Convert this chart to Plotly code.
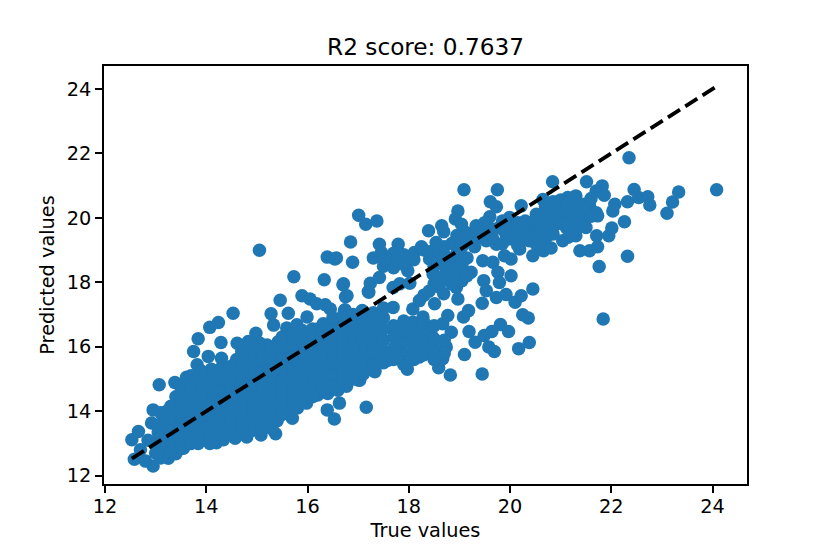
import plotly.graph_objects as go

# (true value, predicted value), grouped by region
band_points = [
    (12.58, 12.51), (12.53, 13.11), (12.66, 13.37), (12.7, 12.8), (12.8, 12.45), (12.85, 13.1), (12.92, 13.63),
    (12.95, 12.3), (13.0, 12.7), (13.02, 13.0), (13.05, 13.35), (12.95, 14.04), (13.25, 12.54), (13.2, 12.9),
    (13.2, 13.25), (13.2, 13.6), (13.22, 14.0), (13.4, 12.68), (13.4, 13.0), (13.4, 13.3), (13.42, 13.65),
    (13.4, 14.0), (13.4, 14.45), (13.55, 12.85), (13.6, 13.2), (13.6, 13.5), (13.6, 13.85), (13.6, 14.2),
    (13.6, 14.55), (13.6, 14.9), (13.84, 13.0), (13.8, 13.3), (13.8, 13.65), (13.8, 14.0), (13.8, 14.3),
    (13.8, 14.65), (13.8, 15.0), (13.82, 15.44), (14.07, 13.0), (14.0, 13.35), (14.0, 13.7), (14.0, 14.05),
    (14.0, 14.4), (14.0, 14.75), (14.0, 15.1), (14.2, 13.02), (14.2, 13.4), (14.2, 13.75), (14.2, 14.1),
    (14.2, 14.45), (14.2, 14.8), (14.2, 15.2), (14.34, 13.11), (14.4, 13.45), (14.4, 13.8), (14.4, 14.15),
    (14.4, 14.5), (14.4, 14.85), (14.4, 15.2), (14.57, 13.16), (14.6, 13.5), (14.6, 13.85), (14.6, 14.2),
    (14.6, 14.55), (14.6, 14.9), (14.62, 15.25), (14.6, 15.6), (14.8, 13.2), (14.8, 13.55), (14.8, 13.9),
    (14.8, 14.25), (14.8, 14.6), (14.8, 14.95), (14.8, 15.3), (14.8, 15.7), (15.08, 13.26), (15.0, 13.6),
    (15.0, 13.95), (15.0, 14.3), (15.0, 14.65), (15.0, 15.0), (15.0, 15.35), (15.0, 15.75), (15.2, 13.55),
    (15.2, 13.95), (15.2, 14.3), (15.2, 14.65), (15.2, 15.0), (15.2, 15.35), (15.2, 15.7), (15.2, 16.05),
    (15.37, 13.3), (15.4, 13.7), (15.4, 14.05), (15.4, 14.4), (15.4, 14.75), (15.4, 15.1), (15.4, 15.45),
    (15.4, 15.8), (15.42, 16.15), (15.7, 13.78), (15.6, 14.1), (15.6, 14.45), (15.6, 14.8), (15.6, 15.15),
    (15.6, 15.5), (15.6, 15.85), (15.6, 16.2), (15.8, 14.1), (15.8, 14.45), (15.8, 14.8), (15.8, 15.15),
    (15.8, 15.5), (15.8, 15.85), (15.8, 16.2), (15.98, 14.25), (16.0, 14.6), (16.0, 14.95), (16.0, 15.3),
    (16.0, 15.65), (16.0, 16.0), (16.0, 16.35), (16.2, 14.5), (16.2, 14.85), (16.2, 15.2), (16.2, 15.55),
    (16.2, 15.9), (16.2, 16.25), (16.2, 16.55), (16.4, 14.55), (16.4, 14.9), (16.4, 15.25), (16.4, 15.6),
    (16.4, 15.95), (16.4, 16.3), (16.4, 16.65), (16.6, 14.65), (16.6, 15.0), (16.6, 15.35), (16.6, 15.7),
    (16.6, 16.05), (16.6, 16.4), (16.6, 16.8), (16.77, 14.77), (16.8, 15.1), (16.8, 15.45), (16.8, 15.8),
    (16.8, 16.15), (16.8, 16.5), (16.8, 16.9), (17.0, 14.97), (17.0, 15.3), (17.0, 15.65), (17.0, 16.0),
    (17.0, 16.35), (17.0, 16.7), (17.2, 15.3), (17.2, 15.65), (17.2, 16.0), (17.2, 16.35), (17.2, 16.7),
    (17.33, 15.28), (17.4, 15.6), (17.4, 15.95), (17.4, 16.3),
]

upper_points = [
    (13.07, 14.82), (13.38, 14.89), (13.61, 15.05), (13.75, 15.85), (13.84, 16.25), (14.04, 15.7), (14.07, 16.6),
    (14.24, 16.75), (14.29, 16.13), (14.3, 15.64), (14.53, 17.04), (14.61, 16.11), (14.83, 16.16), (14.98, 16.42),
    (15.05, 18.99), (15.06, 16.11), (15.28, 17.02), (15.33, 16.67), (15.46, 17.44), (15.59, 16.58), (15.62, 17.04),
    (15.73, 18.17), (15.79, 16.68), (15.89, 17.58), (15.99, 16.92), (16.05, 17.48), (16.18, 17.33), (16.31, 16.71),
    (16.33, 18.08), (16.35, 17.3), (16.39, 18.78), (16.45, 17.17), (16.54, 18.72), (16.57, 18.75), (16.7, 17.92),
    (16.71, 17.95), (16.73, 17.12), (16.74, 17.15), (16.75, 17.55), (16.78, 17.58), (16.85, 19.25), (16.89, 18.62),
    (17.01, 20.08), (17.08, 17.12), (17.15, 19.8), (17.2, 17.71), (17.21, 17.69), (17.24, 17.97), (17.37, 19.9),
    (17.42, 18.15), (17.42, 19.18), (17.46, 18.92), (17.62, 18.72), (17.69, 17.84), (17.69, 17.22), (17.75, 18.56),
    (17.79, 19.18), (17.82, 17.95), (17.98, 18.72), (17.98, 18.36), (18.02, 17.97), (18.11, 18.92), (18.25, 19.1),
    (18.39, 19.6), (18.4, 17.72), (18.41, 18.92), (18.41, 18.72), (18.48, 18.25), (18.54, 19.23), (18.65, 19.75),
    (18.69, 19.57), (18.69, 17.64), (18.74, 18.36), (18.92, 19.96), (18.94, 17.84), (18.97, 20.21), (18.97, 17.48),
    (19.0, 18.36), (19.04, 19.8), (19.07, 18.77), (19.09, 20.87), (19.13, 19.54), (19.23, 18.31), (19.33, 19.75),
    (19.4, 19.39), (19.53, 19.29), (19.6, 20.03), (19.61, 20.5), (19.73, 20.34), (19.73, 19.18), (19.75, 20.87),
    (19.79, 19.7), (19.92, 19.49),
]

lower_points = [
    (16.39, 14.04), (16.53, 13.76), (16.63, 14.25), (16.83, 16.5), (16.96, 15.68), (17.03, 14.96), (17.16, 14.12),
    (17.23, 16.3), (17.33, 15.22), (17.42, 16.81), (17.59, 15.58), (17.69, 16.6), (17.75, 15.99), (17.92, 16.3),
    (17.97, 15.3), (18.08, 17.17), (18.08, 16.76), (18.15, 16.4), (18.21, 17.43), (18.21, 15.68), (18.22, 15.75),
    (18.28, 16.92), (18.41, 15.99), (18.44, 16.4), (18.51, 17.33), (18.59, 15.35), (18.67, 16.71), (18.67, 15.63),
    (18.74, 15.99), (18.77, 16.97), (18.82, 15.12), (18.84, 16.45), (19.08, 16.92), (19.1, 15.76), (19.18, 17.12),
    (19.19, 16.47), (19.31, 16.14), (19.45, 17.35), (19.45, 15.15), (19.46, 18.67), (19.48, 18.05), (19.49, 16.35),
    (19.53, 17.74), (19.58, 15.99), (19.64, 16.47), (19.66, 18.62), (19.69, 15.85), (19.73, 17.53), (19.76, 18.31),
    (19.79, 17.99), (19.81, 16.69), (19.92, 17.62), (19.97, 16.47), (20.02, 18.2), (20.1, 17.38), (20.17, 15.94),
    (20.22, 17.58), (20.25, 16.99), (20.36, 16.89), (20.38, 16.13), (20.45, 17.79),
]

right_points = [
    (19.89, 18.82), (19.99, 20.01), (20.02, 18.72), (20.12, 19.39), (20.19, 19.03), (20.22, 20.37), (20.25, 19.6),
    (20.38, 19.7), (20.38, 19.29), (20.45, 18.82), (20.52, 20.11), (20.52, 19.18), (20.65, 20.57), (20.65, 19.6),
    (20.66, 18.98), (20.66, 19.23), (20.71, 19.39), (20.78, 19.96), (20.81, 19.06), (20.84, 21.12), (20.91, 19.8),
    (20.97, 20.42), (20.97, 20.11), (21.04, 19.29), (21.11, 19.7), (21.14, 20.63), (21.17, 20.01), (21.24, 20.26),
    (21.3, 20.68), (21.3, 19.44), (21.37, 19.9), (21.38, 18.98), (21.43, 20.11), (21.47, 20.42), (21.5, 19.7),
    (21.51, 21.12), (21.57, 20.37), (21.57, 18.98), (21.7, 20.83), (21.7, 20.16), (21.71, 19.44), (21.73, 20.06),
    (21.73, 19.1), (21.76, 18.49), (21.82, 20.99), (21.84, 16.86), (21.86, 20.7), (21.95, 19.44), (22.01, 19.68),
    (22.03, 20.21), (22.07, 20.42), (22.26, 19.88), (22.32, 20.5), (22.32, 18.81), (22.35, 21.86), (22.45, 20.88),
    (22.54, 20.63), (22.72, 20.65), (22.76, 20.4), (23.1, 20.14), (23.21, 20.49), (23.33, 20.8), (24.08, 20.87),
]

# predicted values stacked at one true value, where the marks merge into a solid mass
dense_columns = {
    13.1: [12.55, 12.9, 13.25, 13.6, 13.95],
    13.3: [12.75, 13.1, 13.45, 13.8, 14.15],
    13.5: [12.85, 13.2, 13.55, 13.9, 14.25, 14.6],
    13.7: [13.0, 13.35, 13.7, 14.05, 14.4, 14.75, 15.1],
    13.9: [13.15, 13.5, 13.85, 14.2, 14.55, 14.9, 15.25],
    14.1: [13.2, 13.55, 13.9, 14.25, 14.6, 14.95, 15.3],
    14.3: [13.25, 13.6, 13.95, 14.3, 14.65, 15.0, 15.35],
    14.5: [13.3, 13.65, 14.0, 14.35, 14.7, 15.05, 15.4],
    14.7: [13.35, 13.7, 14.05, 14.4, 14.75, 15.1, 15.45, 15.85],
    14.9: [13.4, 13.75, 14.1, 14.45, 14.8, 15.15, 15.5, 15.9],
    15.1: [13.45, 13.8, 14.15, 14.5, 14.85, 15.2, 15.55, 15.9],
    15.3: [13.45, 13.85, 14.2, 14.55, 14.9, 15.25, 15.6, 15.95],
    15.5: [13.9, 14.25, 14.6, 14.95, 15.3, 15.65, 16.0, 16.3],
    15.7: [14.1, 14.3, 14.65, 15.0, 15.35, 15.7, 16.05, 16.4],
    15.9: [14.4, 14.75, 15.1, 15.45, 15.8, 16.15, 16.5],
    16.1: [14.45, 14.8, 15.15, 15.5, 15.85, 16.2, 16.55],
    16.3: [14.7, 15.05, 15.4, 15.75, 16.1, 16.45],
    16.5: [14.8, 15.15, 15.5, 15.85, 16.2, 16.55, 16.9],
    16.7: [14.85, 15.2, 15.55, 15.9, 16.25, 16.6, 16.95],
    16.9: [15.0, 15.3, 15.65, 16.0, 16.35, 16.7, 17.0],
    17.1: [15.15, 15.5, 15.85, 16.2, 16.55, 16.85],
    17.3: [15.45, 15.8, 16.15, 16.5, 16.8, 17.05, 18.75],
    17.5: [15.5, 15.85, 16.2, 16.55, 16.9, 17.2, 18.5, 18.7],
    17.7: [15.6, 15.95, 16.3, 16.65, 18.45, 18.9],
    17.9: [15.45, 15.8, 16.15, 16.5, 16.8, 18.55, 18.85],
    18.1: [15.6, 15.95, 16.25, 16.6, 18.7],
    18.3: [15.75, 16.1, 16.45, 16.75, 17.6, 19.0],
    18.5: [15.6, 15.95, 16.25, 16.65, 17.95, 18.5, 18.75, 19.0],
    18.6: [17.85, 18.15, 18.95],
    18.7: [15.8, 16.2, 18.1, 18.55, 18.85, 19.1],
    18.85: [17.95, 18.25, 18.6, 19.2],
    18.95: [18.1, 18.5, 18.9, 19.45],
    19.05: [18.05, 18.55, 19.1],
    19.15: [18.2, 18.75, 19.3],
    19.3: [19.1, 19.5],
    19.5: [19.6, 19.85],
    19.65: [19.4, 19.65],
    19.85: [19.2, 19.65, 19.9],
    20.0: [19.35, 19.7],
    20.15: [19.15, 19.6, 19.85],
    20.3: [19.4, 19.9],
    20.5: [19.5, 19.9],
    20.6: [19.3, 19.75],
    20.7: [19.65, 20.0, 20.35],
    20.85: [19.5, 20.25, 20.5],
    21.0: [19.85, 20.25, 20.55],
    21.15: [19.4, 19.8, 20.2, 20.45],
    21.3: [19.65, 20.0, 20.35],
    21.45: [19.85, 20.25],
    21.6: [20.05, 20.6],
}

all_points = band_points + upper_points + lower_points + right_points
true_values = [p[0] for p in all_points]
predicted_values = [p[1] for p in all_points]
for column_x, column_ys in dense_columns.items():
    true_values += [column_x] * len(column_ys)
    predicted_values += column_ys

line_ends = [12.53, 24.12]
tick_values = [12, 14, 16, 18, 20, 22, 24]

fig = go.Figure()

fig.add_trace(go.Scatter(
    x=true_values,
    y=predicted_values,
    mode='markers',
    marker=dict(size=13.5, color='#1f77b4', line=dict(width=0)),
))

fig.add_trace(go.Scatter(
    x=line_ends,
    y=line_ends,
    mode='lines',
    line=dict(color='black', width=3.86, dash='14.3px,6.2px'),
))

axis_style = dict(
    tickvals=tick_values,
    ticks='outside',
    ticklen=7,
    tickwidth=1.5,
    tickcolor='black',
    showline=True,
    linecolor='black',
    linewidth=1.5,
    mirror=True,
    showgrid=False,
    zeroline=False,
    tickfont=dict(size=19.3, color='black'),
)

fig.update_layout(
    width=830,
    height=554,
    margin=dict(l=96, r=91, t=58, b=78),
    showlegend=False,
    template='plotly_white',
    font=dict(family='DejaVu Sans', color='black'),
    paper_bgcolor='white',
    plot_bgcolor='white',
    title=dict(text='R2 score: 0.7637', font=dict(size=23.2), x=0.5, xref='paper', y=0.93, yref='container', xanchor='center', yanchor='middle'),
)
fig.update_xaxes(range=[11.98, 24.68], ticklabelstandoff=-3, title=dict(text='True values', font=dict(size=19.3), standoff=7), **axis_style)
fig.update_yaxes(range=[11.74, 24.71], title=dict(text='Predicted values', font=dict(size=19.3), standoff=7), **axis_style)

fig.write_html("out.html")
